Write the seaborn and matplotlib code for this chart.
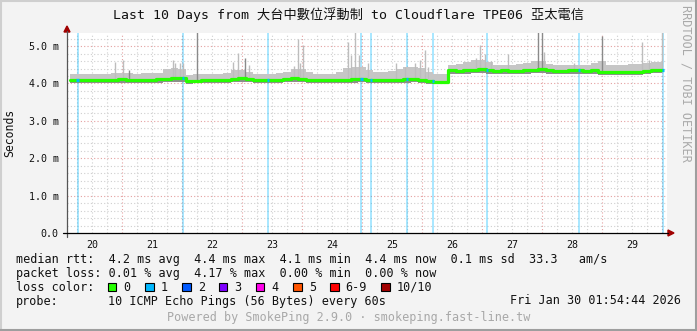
import numpy as np
import matplotlib
matplotlib.use("Agg")
import matplotlib.pyplot as plt
import seaborn as sns
import pandas as pd
from matplotlib.patches import Polygon, Rectangle
from matplotlib.lines import Line2D

# ---------------- data ----------------
t_start, t_step = 20.125, 0.125          # day-of-month, 3-hour samples

median_ms = [4.09, 4.09, 4.08, 4.09, 4.08, 4.09, 4.09, 4.11, 4.10, 4.09,
             4.10, 4.10, 4.11, 4.13, 4.14, 4.14, 4.06, 4.07, 4.08, 4.08,
             4.09, 4.10, 4.13, 4.14, 4.11, 4.10, 4.09, 4.09, 4.10, 4.12,
             4.14, 4.13, 4.10, 4.10, 4.09, 4.09, 4.08, 4.10, 4.11, 4.12,
             4.10, 4.09, 4.09, 4.10, 4.10, 4.11, 4.12, 4.10, 4.06, 4.05,
             4.05, 4.35, 4.34, 4.35, 4.37, 4.38, 4.35, 4.34, 4.35, 4.34,
             4.34, 4.35, 4.36, 4.38, 4.35, 4.34, 4.34, 4.35, 4.35, 4.34,
             4.35, 4.31, 4.30, 4.30, 4.31, 4.30, 4.31, 4.33, 4.37, 4.37]

smoke_hi = [4.24, 4.24, 4.24, 4.24, 4.24, 4.26, 4.27, 4.28, 4.27, 4.26,
            4.28, 4.27, 4.29, 4.38, 4.42, 4.40, 4.23, 4.24, 4.25, 4.24,
            4.25, 4.28, 4.36, 4.37, 4.30, 4.26, 4.25, 4.26, 4.27, 4.32,
            4.38, 4.39, 4.30, 4.26, 4.25, 4.26, 4.32, 4.42, 4.45, 4.43,
            4.35, 4.30, 4.31, 4.33, 4.40, 4.44, 4.45, 4.42, 4.30, 4.26,
            4.24, 4.50, 4.52, 4.58, 4.62, 4.62, 4.58, 4.50, 4.49, 4.50,
            4.51, 4.55, 4.60, 4.60, 4.52, 4.50, 4.49, 4.50, 4.49, 4.50,
            4.55, 4.60, 4.50, 4.49, 4.50, 4.51, 4.52, 4.56, 4.58, 4.57]

smoke_lo = [4.01, 4.01, 4.00, 4.01, 4.00, 4.01, 4.01, 4.02, 4.02, 4.01,
            4.02, 4.02, 4.02, 4.03, 4.04, 4.04, 3.99, 4.00, 4.01, 4.01,
            4.01, 4.02, 4.03, 4.04, 4.03, 4.02, 4.01, 4.01, 4.02, 4.03,
            4.04, 4.04, 4.02, 4.02, 4.01, 4.01, 4.00, 4.02, 4.02, 4.03,
            4.02, 4.01, 4.01, 4.02, 4.02, 4.02, 4.03, 4.01, 3.99, 3.98,
            3.98, 4.26, 4.25, 4.26, 4.27, 4.28, 4.26, 4.25, 4.26, 4.25,
            4.25, 4.26, 4.27, 4.28, 4.26, 4.25, 4.25, 4.26, 4.26, 4.25,
            4.26, 4.23, 4.22, 4.22, 4.23, 4.22, 4.23, 4.24, 4.27, 4.27]

spike_light_t = [20.877, 21.005, 21.85, 21.877, 21.96, 22.017, 22.85, 22.93,
                 23.11, 23.86, 23.93, 23.96, 24.01, 24.76, 24.82, 24.88, 24.94,
                 25.09, 25.57, 25.72, 25.88, 25.96, 26.04, 26.10, 26.89, 26.97,
                 27.04, 27.14, 27.43, 28.03, 28.53, 29.67, 29.78, 30.0]
spike_light_top = [4.58, 4.63, 4.63, 4.54, 4.54, 4.54, 4.58, 4.81,
                   4.50, 4.48, 5.20, 4.55, 5.03, 5.11, 4.76, 5.40, 4.77,
                   4.55, 4.55, 4.45, 4.55, 4.62, 4.89, 4.45, 4.67, 5.03,
                   4.80, 4.60, 4.80, 4.85, 4.55, 5.11, 4.62, 5.40]
spike_dark_t = [21.117, 22.24, 23.04, 27.93, 27.99, 29.0]
spike_dark_top = [4.36, 5.40, 4.68, 5.40, 5.40, 5.27]

loss_t = [20.255, 22.01, 23.427, 24.988, 25.15, 25.743, 26.177, 27.077, 28.61, 30.017]

day_labels = ["20", "21", "22", "23", "24", "25", "26", "27", "28", "29"]
ytick_vals = [0, 1, 2, 3, 4, 5]
ytick_labels = ["0.0", "1.0 m", "2.0 m", "3.0 m", "4.0 m", "5.0 m"]

title = "Last 10 Days from 大台中數位浮動制 to Cloudflare TPE06 亞太電信"
line1 = "median rtt:  4.2 ms avg  4.4 ms max  4.1 ms min  4.4 ms now  0.1 ms sd  33.3   am/s"
line2 = "packet loss: 0.01 % avg  4.17 % max  0.00 % min  0.00 % now"
line4a = "probe:"
line4b = "10 ICMP Echo Pings (56 Bytes) every 60s"
line4c = "Fri Jan 30 01:54:44 2026"
powered = "Powered by SmokePing 2.9.0 · smokeping.fast-line.tw"
side_text = "RRDTOOL / TOBI OETIKER"
loss_names = ["0", "1", "2", "3", "4", "5", "6-9", "10/10"]
loss_colors = ["#26ff00", "#00b8ff", "#0059ff", "#7e00ff", "#ff00ea",
               "#ff5500", "#ff0000", "#a10000"]

# ---------------- figure ----------------
W, H = 697, 331
def fx(px): return px / W
def fy(py): return 1 - py / H

sns.set_style("white")
MONO = "DejaVu Sans Mono"
plt.rcParams['font.family'] = [MONO, 'Noto Sans CJK TC']

fig = plt.figure(figsize=(6.97, 3.31), dpi=100, facecolor='#F3F3F3')
ax = fig.add_axes([fx(67), fy(233), fx(667) - fx(67), fy(33) - fy(233)])
ax.set_facecolor('white')
for s in ax.spines.values():
    s.set_visible(False)
x0, x1 = 20.08, 30.08
ax.set_xlim(x0, x1)
ax.set_ylim(0, 5.35)

# grid
dot = (0, (1, 2))
gx = np.arange(20.25, x1, 0.25)
for v in gx:
    major = abs(v - round(v)) < 1e-6
    ax.axvline(v, color='#E4A0A0' if major else '#CFCFCF', lw=0.8, ls=dot, zorder=0)
gy = np.arange(0.2, 5.35, 0.2)
for v in gy:
    major = abs(v - round(v)) < 1e-6
    ax.axhline(v, color='#E4A0A0' if major else '#CFCFCF', lw=0.8, ls=dot, zorder=0)

# loss lines
for t in loss_t:
    ax.axvline(t, color='#00b8ff', alpha=0.4, lw=1.2, zorder=1)

times = t_start + t_step * np.arange(len(median_ms))
df = pd.DataFrame({"t": times, "med": median_ms, "hi": smoke_hi, "lo": smoke_lo})

# smoke
ax.fill_between(df["t"], df["med"], df["hi"], step='mid', color='#C6C6C6', lw=0, zorder=2)
ax.fill_between(df["t"], df["lo"], df["med"], step='mid', color='#8E8E8E', lw=0, zorder=2)
base_l = np.interp(spike_light_t, times, median_ms)
ax.vlines(spike_light_t, base_l, spike_light_top, color='#BDBDBD', lw=1.0, zorder=2)
base_d = np.interp(spike_dark_t, times, median_ms)
ax.vlines(spike_dark_t, base_d, spike_dark_top, color='#8A8A8A', lw=1.0, zorder=2)

# median
sns.lineplot(data=df, x="t", y="med", ax=ax, color='#26ff00', lw=2.3,
             drawstyle='steps-mid', zorder=5)
ml = np.interp(loss_t, times, median_ms)
ax.hlines(ml, np.array(loss_t) - 0.02, np.array(loss_t) + 0.02, color='#00b8ff', lw=2.3, zorder=6)
ax.set_xlabel("")
ax.set_ylabel("")
ax.set_xlim(x0, x1)
ax.set_ylim(0, 5.35)

# ticks
ax.set_xticks([int(d) + 0.5 for d in day_labels])
ax.set_xticklabels(day_labels)
ax.tick_params(axis='x', length=0, pad=5, labelsize=7.2, labelcolor='#111111')
ax.set_yticks(ytick_vals)
ax.set_yticklabels(ytick_labels)
ax.tick_params(axis='y', length=0, pad=6, labelsize=7.2, labelcolor='#111111')

# axes lines and arrows
fig.add_artist(Line2D([fx(67), fx(67)], [fy(237), fy(31)], color='#555555', lw=0.9))
fig.add_artist(Line2D([fx(63), fx(668)], [fy(233), fy(233)], color='#000000', lw=0.9))
fig.add_artist(Polygon([[fx(67), fy(26)], [fx(64), fy(32)], [fx(70), fy(32)]],
                       closed=True, color='#a00000', transform=fig.transFigure))
fig.add_artist(Polygon([[fx(674), fy(233)], [fx(668), fy(230)], [fx(668), fy(236)]],
                       closed=True, color='#a00000', transform=fig.transFigure))

# border shading
fig.add_artist(Line2D([0, 1], [fy(0.5), fy(0.5)], color='#CFCFCF', lw=1.5))
fig.add_artist(Line2D([fx(0.5), fx(0.5)], [0, 1], color='#CFCFCF', lw=1.5))
fig.add_artist(Line2D([fx(696), fx(696)], [0, 1], color='#9E9E9E', lw=1.5))
fig.add_artist(Line2D([0, 1], [fy(330), fy(330)], color='#9E9E9E', lw=1.5))

# texts
fig.text(0.5, fy(15), title, ha='center', va='center', fontsize=9.5, color='#111111',
         family=[MONO, 'Noto Sans CJK TC'])
fig.text(fx(10), fy(133), "Seconds", rotation=90, ha='center', va='center',
         fontsize=8.3, color='#111111', family=MONO)
fig.text(fx(686), fy(83), side_text, rotation=270, ha='center', va='center',
         fontsize=8.45, color='#AAAAAA', family=MONO)

fs = 8.45
fig.text(fx(16), fy(260), line1, ha='left', va='center', fontsize=fs, family=MONO, color='#111111')
fig.text(fx(16), fy(273.5), line2, ha='left', va='center', fontsize=fs, family=MONO, color='#111111')
fig.text(fx(16), fy(287.3), "loss color:", ha='left', va='center', fontsize=fs, family=MONO, color='#111111')
box_x = [108, 145.3, 182.2, 219.1, 256, 293.3, 330.2, 381.3]
for bx, name, col in zip(box_x, loss_names, loss_colors):
    fig.add_artist(Rectangle((fx(bx), fy(291)), fx(8.4), fy(282.7) - fy(291),
                             facecolor=col, edgecolor='black', lw=0.8,
                             transform=fig.transFigure))
    fig.text(fx(bx + 15.5), fy(287.3), name, ha='left', va='center', fontsize=fs,
             family=MONO, color='#111111')
fig.text(fx(16), fy(301), line4a, ha='left', va='center', fontsize=fs, family=MONO, color='#111111')
fig.text(fx(107.6), fy(301), line4b, ha='left', va='center', fontsize=fs, family=MONO, color='#111111')
fig.text(fx(681), fy(301), line4c, ha='right', va='center', fontsize=fs, family=MONO, color='#111111')
fig.text(0.5, fy(317.7), powered, ha='center', va='center', fontsize=fs, family=MONO, color='#A8A8A8')

fig.savefig("out.png", dpi=100, facecolor=fig.get_facecolor())
